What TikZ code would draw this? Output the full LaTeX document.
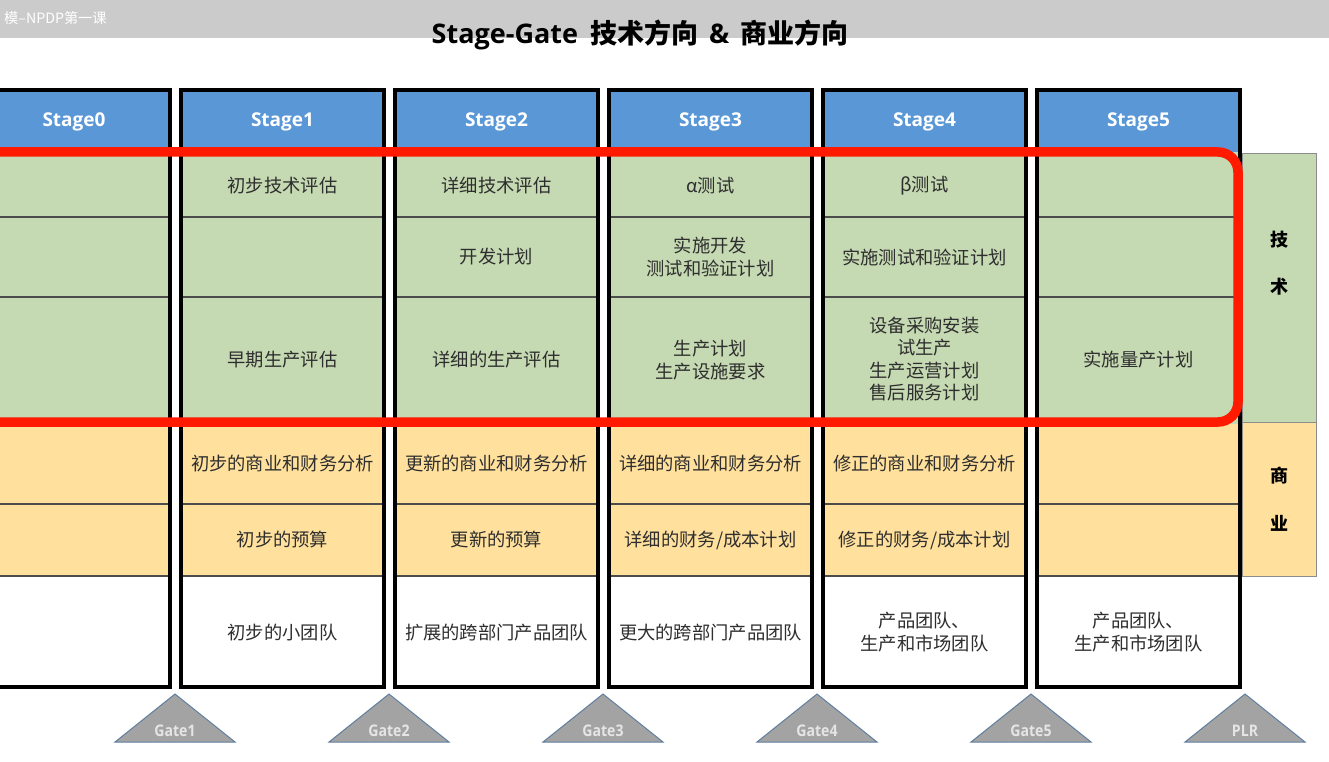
\documentclass[tikz,border=0pt]{standalone}
\usepackage{fontspec}
\newfontfamily\cjk{Noto Sans CJK SC}
\newfontfamily\osans{Open Sans}
\definecolor{bluec}{HTML}{5A97D6}
\definecolor{greenc}{HTML}{C5D9B2}
\definecolor{yellowc}{HTML}{FFE09C}
\definecolor{topgray}{HTML}{CBCBCB}
\definecolor{gatefill}{HTML}{A3A3A3}
\definecolor{gateline}{HTML}{5E7FA0}
\definecolor{redc}{HTML}{FF1A00}
\definecolor{txtc}{HTML}{2E2E2E}
\tikzset{
  frame/.style={draw=black, line width=4pt},
  divider/.style={draw=black!70, line width=1.2pt},
  stagehdr/.style={text=white, font=\osans\bfseries\fontsize{19}{21}\selectfont},
  celltxt/.style={text=txtc, align=center, inner sep=0pt, font=\cjk\fontsize{18.3}{22.5}\selectfont},
  sidetxt/.style={text=black, inner sep=0pt, font=\cjk\bfseries\fontsize{18}{20}\selectfont},
  gatetri/.style={fill=gatefill, draw=gateline, line width=1pt},
  gatetxt/.style={text=white!90!black, inner sep=0pt, xscale=0.88, font=\osans\bfseries\fontsize{16}{18}\selectfont},
  redline/.style={draw=redc, line width=9.5pt, rounded corners=20pt},
  labbox/.style={draw=black!45, line width=0.8pt}
}
\begin{document}
\begin{tikzpicture}[x=1pt,y=-1pt]
\useasboundingbox (0,0) rectangle (1329,762);
\clip (0,0) rectangle (1329,762);
\fill[white] (0,0) rectangle (1329,762);
% top bar
\fill[topgray] (0,0) rectangle (1329,38);
\node[anchor=west, text=white, inner sep=0pt, font=\cjk\fontsize{14.2}{16}\selectfont] (bar) at (4,18) {模–NPDP第一课};
\node[text=black, inner sep=0pt, font=\cjk\bfseries\fontsize{27}{30}\selectfont] (title) at (640,35) {{\osans\bfseries Stage-Gate}\hspace{12pt}技术方向\hspace{11pt}{\osans\bfseries\&}\hspace{11pt}商业方向};
% columns
\foreach \i in {0,...,5} {
  \pgfmathsetmacro\xl{-35+214*\i}
  \pgfmathsetmacro\xr{\xl+207}
  \fill[bluec] (\xl,88) rectangle (\xr,152);
  \fill[greenc] (\xl,152) rectangle (\xr,424);
  \fill[yellowc] (\xl,424) rectangle (\xr,576);
  \fill[white] (\xl,576) rectangle (\xr,689);
  \draw[divider] (\xl,217) -- (\xr,217);
  \draw[divider] (\xl,297) -- (\xr,297);
  \draw[divider] (\xl,504) -- (\xr,504);
  \draw[divider] (\xl,576) -- (\xr,576);
  \draw[frame] (\xl+2,90) rectangle (\xr-2,687);
}
% stage headers
\node[stagehdr] (s0) at (74,122) {Stage0};
\node[stagehdr] (s1) at (282.5,122) {Stage1};
\node[stagehdr] (s2) at (496.5,122) {Stage2};
\node[stagehdr] (s3) at (710.5,122) {Stage3};
\node[stagehdr] (s4) at (924.5,122) {Stage4};
\node[stagehdr] (s5) at (1138.5,122) {Stage5};
% Stage1
\node[celltxt] (c1a) at (282.5,186) {初步技术评估};
\node[celltxt] (c1c) at (282.5,360) {早期生产评估};
\node[celltxt] (c1d) at (282.5,464) {初步的商业和财务分析};
\node[celltxt] (c1e) at (282.5,540) {初步的预算};
\node[celltxt] (c1f) at (282.5,633) {初步的小团队};
% Stage2
\node[celltxt] (c2a) at (496.5,186) {详细技术评估};
\node[celltxt] (c2b) at (496.5,257) {开发计划};
\node[celltxt] (c2c) at (496.5,360) {详细的生产评估};
\node[celltxt] (c2d) at (496.5,464) {更新的商业和财务分析};
\node[celltxt] (c2e) at (496.5,540) {更新的预算};
\node[celltxt] (c2f) at (496.5,633) {扩展的跨部门产品团队};
% Stage3
\node[celltxt] (c3a) at (710.5,186) {α测试};
\node[celltxt] (c3b) at (710.5,257) {实施开发\\测试和验证计划};
\node[celltxt] (c3c) at (710.5,360) {生产计划\\生产设施要求};
\node[celltxt] (c3d) at (710.5,464) {详细的商业和财务分析};
\node[celltxt] (c3e) at (710.5,540) {详细的财务/成本计划};
\node[celltxt] (c3f) at (710.5,633) {更大的跨部门产品团队};
% Stage4
\node[celltxt] (c4a) at (924.5,186) {β测试};
\node[celltxt] (c4b) at (924.5,257) {实施测试和验证计划};
\node[celltxt] (c4c) at (924.5,359) {设备采购安装\\试生产\\生产运营计划\\售后服务计划};
\node[celltxt] (c4d) at (924.5,464) {修正的商业和财务分析};
\node[celltxt] (c4e) at (924.5,540) {修正的财务/成本计划};
\node[celltxt] (c4f) at (924.5,632) {产品团队、\\生产和市场团队};
% Stage5
\node[celltxt] (c5c) at (1138.5,360) {实施量产计划};
\node[celltxt] (c5f) at (1138.5,632) {产品团队、\\生产和市场团队};
% side labels
\draw[labbox, fill=greenc] (1242,153) rectangle (1316,422);
\draw[labbox, fill=yellowc] (1242,422) rectangle (1316,576);
\node[sidetxt] (t1) at (1279,240) {技};
\node[sidetxt] (t2) at (1279,287) {术};
\node[sidetxt] (b1) at (1279,476) {商};
\node[sidetxt] (b2) at (1279,523) {业};
% red frame
\draw[redline] (-60,152) rectangle (1238,422);
% gates
\foreach \cx/\nm/\lb in {175/g1/Gate1, 389/g2/Gate2, 603/g3/Gate3, 817/g4/Gate4, 1031/g5/Gate5, 1245/g6/PLR} {
  \draw[gatetri] (\cx-60,742) -- (\cx,694) -- (\cx+60,742) -- cycle;
  \node[gatetxt] (\nm) at (\cx,731) {\lb};
}
\end{tikzpicture}
\end{document}
